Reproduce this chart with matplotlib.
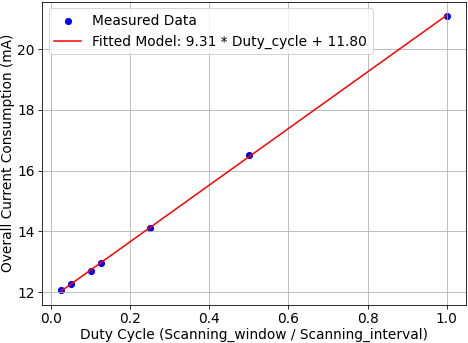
import numpy as np
import matplotlib.pyplot as plt

plt.rcParams.update({'font.size': 13.5})

# measured duty cycle vs current
duty_cycle = np.array([0.025, 0.05, 0.1, 0.125, 0.25, 0.5, 1.0])
current_mA = np.array([12.08, 12.27, 12.71, 12.96, 14.12, 16.50, 21.09])

slope = 9.31
intercept = 11.80

dpi = 73.125
fig, ax = plt.subplots(1, 1, figsize=(468 / dpi, 343 / dpi), dpi=dpi)
ax.scatter(duty_cycle, current_mA, color='blue', label="Measured Data")
ax.plot(duty_cycle, slope * duty_cycle + intercept, color='red',
        label=f"Fitted Model: {slope:.2f} * Duty_cycle + {intercept:.2f}")
ax.set_xlabel("Duty Cycle (Scanning_window / Scanning_interval)", labelpad=2)
ax.set_ylabel("Overall Current Consumption (mA)", labelpad=2)
ax.legend(loc='upper left')
ax.grid(True)
fig.subplots_adjust(left=41.7/468, right=466/468, top=1-1.5/343, bottom=1-305/343)
fig.savefig("out.png")
